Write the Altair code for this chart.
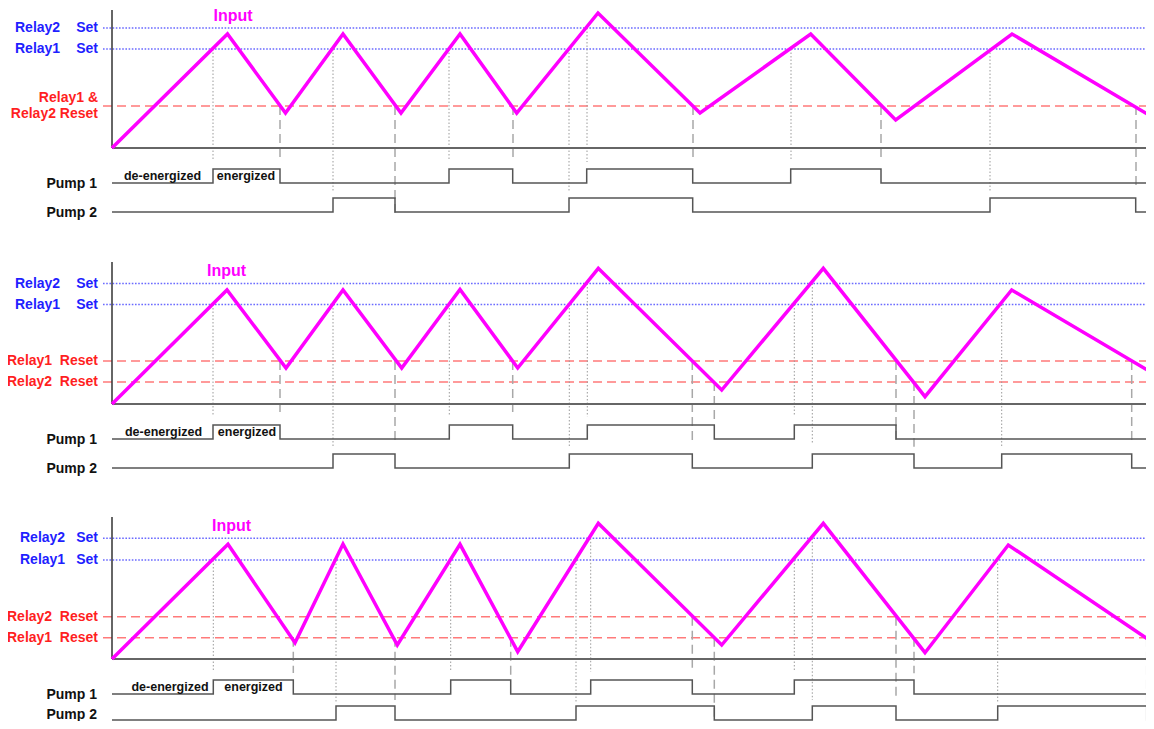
import altair as alt
import pandas as pd

# ---------------- data (time units, level units) ----------------
T_END = 1034

# Input signal per panel
in_t = [
    [0, 115.5, 173.5, 231, 289, 348, 404.7, 486, 588, 698.7, 783.7, 900, 1042],
    [0, 115, 174, 231, 289.7, 348, 405.7, 486.3, 609.7, 711.3, 813, 899.7, 1042],
    [0, 116, 183, 231, 285.3, 348, 405.7, 486.3, 609.7, 711.3, 813, 896.3, 1042],
]
in_lv = [
    [0, 114, 35, 114, 35, 114, 35, 135, 35, 114, 28, 114, 30],
    [0, 114, 36, 114, 36, 114.5, 36, 135.7, 14, 135.7, 7.3, 114, 30],
    [0, 114.7, 16.3, 115, 14, 114.7, 7.3, 135.7, 14, 135.7, 6.3, 114, 15.7],
]

# Set thresholds (Relay2 Set, Relay1 Set) and reset thresholds
set_lv = [[120, 99], [120.5, 99.5], [120.7, 99]]
reset_lv = [[42], [43, 22], [42.3, 21.3]]

# Pump toggle times (start de-energized)
pump1_toggles = [
    [101, 168, 337, 400.7, 474.7, 580.7, 678.7, 769],
    [101, 168, 337.3, 400.7, 475.3, 602.3, 682.3, 784],
    [101.3, 181.3, 338.7, 398.7, 478.7, 580.3, 682.3, 802],
]
pump2_toggles = [
    [221, 283, 457, 580.7, 878, 1023.7],
    [221, 283, 457.3, 580.3, 700.3, 802, 889.7, 1019.7],
    [224, 283, 464, 602.3, 700.3, 784, 885.7, 1034.7],
]

# Guide lines: (time, top level, bottom level)
dotted_t = [
    [101, 221, 337, 457, 475, 679, 878],
    [101, 221, 337.3, 457.3, 475.3, 682.3, 700.3, 889.7],
    [101.3, 224, 338.7, 464, 478.7, 682.3, 700.3, 885.7],
]
dotted_top = [
    [99, 99, 99, 99, 120, 99, 99],
    [99.5, 99.5, 99.5, 99.5, 120.5, 99.5, 120.5, 99.5],
    [99, 99, 99, 99, 120.7, 99, 120.7, 99],
]
dotted_bot = [
    [-12, -44, -12, -44, -14, -12, -44],
    [-11.7, -42.7, -11, -42.7, -12.7, -11, -39, -42.7],
    [-12.7, -43.7, -12.7, -42.7, -12.7, -12.7, -41, -44.3],
]
dashed_t = [
    [168, 283, 401, 581, 769, 1024],
    [168, 283, 400.7, 580.3, 602.3, 784, 802, 1019.7],
    [181.3, 283, 398.7, 580.3, 602.3, 784, 802, 1034.7],
]
dashed_top = [
    [42, 42, 42, 42, 42, 42],
    [43, 43, 43, 43, 22, 43, 22, 43],
    [21.3, 21.3, 21.3, 42.3, 21.3, 42.3, 21.3, 21.3],
]
dashed_bot = [
    [-10, -67, -10, -10, -10, -40],
    [-9, -39, -11, -39, -16, -36, -42.7, -39],
    [-14, -41, -16, -12.7, -66, -41, -14.3, -44.3],
]

# ---------------- layout constants ----------------
SHIFT = [0, 256, 511]          # vertical offset of each panel
Y_TOP = 140
H = 713
W = 1138
PUMP_ROW = [{"Pump 1": -35, "Pump 2": -64},
            {"Pump 1": -35, "Pump 2": -64},
            {"Pump 1": -35, "Pump 2": -61}]
PUMP_H = 14
BLUE_TXT = "#1f1fff"
RED_TXT = "#ff1f1f"
BLUE_LN = "#6a6aff"
RED_LN = "#ff7a7a"
FONT = "Liberation Sans"

def Y(p, lv):
    return lv - SHIFT[p]

# ---------------- tables ----------------
inp = pd.DataFrame([
    {"panel": p, "t": t, "y": Y(p, lv)}
    for p in range(3) for t, lv in zip(in_t[p], in_lv[p])
])

steps = []
for p in range(3):
    for name, tog in (("Pump 1", pump1_toggles[p]), ("Pump 2", pump2_toggles[p])):
        s = 0
        pts = [(0, 0)]
        for t in tog:
            s = 1 - s
            pts.append((t, s))
        pts.append((1042, s))
        for t, s in pts:
            steps.append({"key": f"{p}-{name}", "t": t,
                          "y": Y(p, PUMP_ROW[p][name] + s * PUMP_H)})
steps = pd.DataFrame(steps)

dots = pd.DataFrame([
    {"t": t, "y": Y(p, a), "y2": Y(p, b)}
    for p in range(3) for t, a, b in zip(dotted_t[p], dotted_top[p], dotted_bot[p])
])
dashes = pd.DataFrame([
    {"t": t, "y": Y(p, a), "y2": Y(p, b)}
    for p in range(3) for t, a, b in zip(dashed_t[p], dashed_top[p], dashed_bot[p])
])

set_lines = pd.DataFrame([
    {"t": -9, "t2": T_END, "y": Y(p, lv)} for p in range(3) for lv in set_lv[p]
])
reset_lines = pd.DataFrame([
    {"t": -9, "t2": T_END, "y": Y(p, lv)} for p in range(3) for lv in reset_lv[p]
])

axes_v = pd.DataFrame([{"t": 0, "y": Y(p, 0), "y2": Y(p, [138, 142, 142][p])} for p in range(3)])
axes_h = pd.DataFrame([{"t": 0, "t2": T_END, "y": Y(p, 0)} for p in range(3)])

# ---------------- labels ----------------
labels = []
def lab(p, t, lv, text, color, align, size):
    labels.append({"t": t, "y": Y(p, lv), "text": text, "color": color,
                   "align": align, "size": size})

left_blue = [-97, -97, -92]
for p in range(3):
    s2, s1 = set_lv[p]
    lab(p, left_blue[p], s2, "Relay2", BLUE_TXT, "left", 14)
    lab(p, -14, s2, "Set", BLUE_TXT, "right", 14)
    lab(p, left_blue[p], s1, "Relay1", BLUE_TXT, "left", 14)
    lab(p, -14, s1, "Set", BLUE_TXT, "right", 14)
    lab(p, -15, -35.5, "Pump 1", "#111111", "right", 14)
    lab(p, -15, -64.5 if p < 2 else -56, "Pump 2", "#111111", "right", 14)

lab(0, -14, 49.7, "Relay1 &", RED_TXT, "right", 14)
lab(0, -14, 34, "Relay2 Reset", RED_TXT, "right", 14)
lab(1, -105, 43, "Relay1", RED_TXT, "left", 14)
lab(1, -14, 43, "Reset", RED_TXT, "right", 14)
lab(1, -105, 22, "Relay2", RED_TXT, "left", 14)
lab(1, -14, 22, "Reset", RED_TXT, "right", 14)
lab(2, -105, 42.3, "Relay2", RED_TXT, "left", 14)
lab(2, -14, 42.3, "Reset", RED_TXT, "right", 14)
lab(2, -105, 21.3, "Relay1", RED_TXT, "left", 14)
lab(2, -14, 21.3, "Reset", RED_TXT, "right", 14)

input_pos = [(121, 132.3), (114.5, 133.3), (119.5, 133)]
for p, (t, lv) in enumerate(input_pos):
    lab(p, t, lv, "Input", "#ff00ff", "center", 16)

state_pos = [(50.5, 134), (51.5, 135), (58, 141.5)]
for p, (a, b) in enumerate(state_pos):
    lab(p, a, -27.8, "de-energized", "#111111", "center", 12.5)
    lab(p, b, -27.8, "energized", "#111111", "center", 12.5)
labels = pd.DataFrame(labels)

# ---------------- chart ----------------
xs = alt.Scale(domain=[-104, T_END], nice=False, zero=False)
ys = alt.Scale(domain=[Y_TOP - H, Y_TOP], nice=False, zero=False)
X = lambda f="t": alt.X(f"{f}:Q", scale=xs, axis=None)
YY = lambda f="y": alt.Y(f"{f}:Q", scale=ys, axis=None)

set_layer = alt.Chart(set_lines).mark_rule(
    color=BLUE_LN, strokeWidth=1.6, strokeDash=[1.6, 1.6]
).encode(x=X(), x2="t2:Q", y=YY())

reset_layer = alt.Chart(reset_lines).mark_rule(
    color=RED_LN, strokeWidth=1.6, strokeDash=[9, 5]
).encode(x=X(), x2="t2:Q", y=YY())

dot_layer = alt.Chart(dots).mark_rule(
    color="#9a9a9a", strokeWidth=1, strokeDash=[1.5, 2]
).encode(x=X(), y=YY(), y2="y2:Q")

dash_layer = alt.Chart(dashes).mark_rule(
    color="#a8a8a8", strokeWidth=1.5, strokeDash=[9, 5]
).encode(x=X(), y=YY(), y2="y2:Q")

axv_layer = alt.Chart(axes_v).mark_rule(color="#333333", strokeWidth=1.5).encode(
    x=X(), y=YY(), y2="y2:Q")
axh_layer = alt.Chart(axes_h).mark_rule(color="#666666", strokeWidth=2).encode(
    x=X(), x2="t2:Q", y=YY())

step_layer = alt.Chart(steps).mark_line(
    interpolate="step-after", color="#555555", strokeWidth=1.5
).encode(x=X(), y=YY(), detail="key:N")

input_layer = alt.Chart(inp).mark_line(
    color="#ff00ff", strokeWidth=3.5, strokeJoin="miter", strokeCap="butt"
).encode(x=X(), y=YY(), detail="panel:N")

text_layers = []
for al in ("left", "right", "center"):
    sub = labels[labels["align"] == al]
    text_layers.append(
        alt.Chart(sub).mark_text(
            align=al, baseline="middle", font=FONT, fontWeight="bold"
        ).encode(
            x=X(), y=YY(), text="text:N",
            color=alt.Color("color:N", scale=None),
            size=alt.Size("size:Q", scale=None),
        )
    )

chart = alt.layer(
    set_layer, reset_layer, dot_layer, dash_layer, axh_layer, axv_layer,
    step_layer, input_layer, *text_layers
).properties(
    width=W, height=H,
    autosize=alt.AutoSizeParams(type="none"),
    padding=0,
    background="white",
).configure_view(stroke=None)

chart.save("out.html", embed_options={"renderer": "svg", "actions": False})
